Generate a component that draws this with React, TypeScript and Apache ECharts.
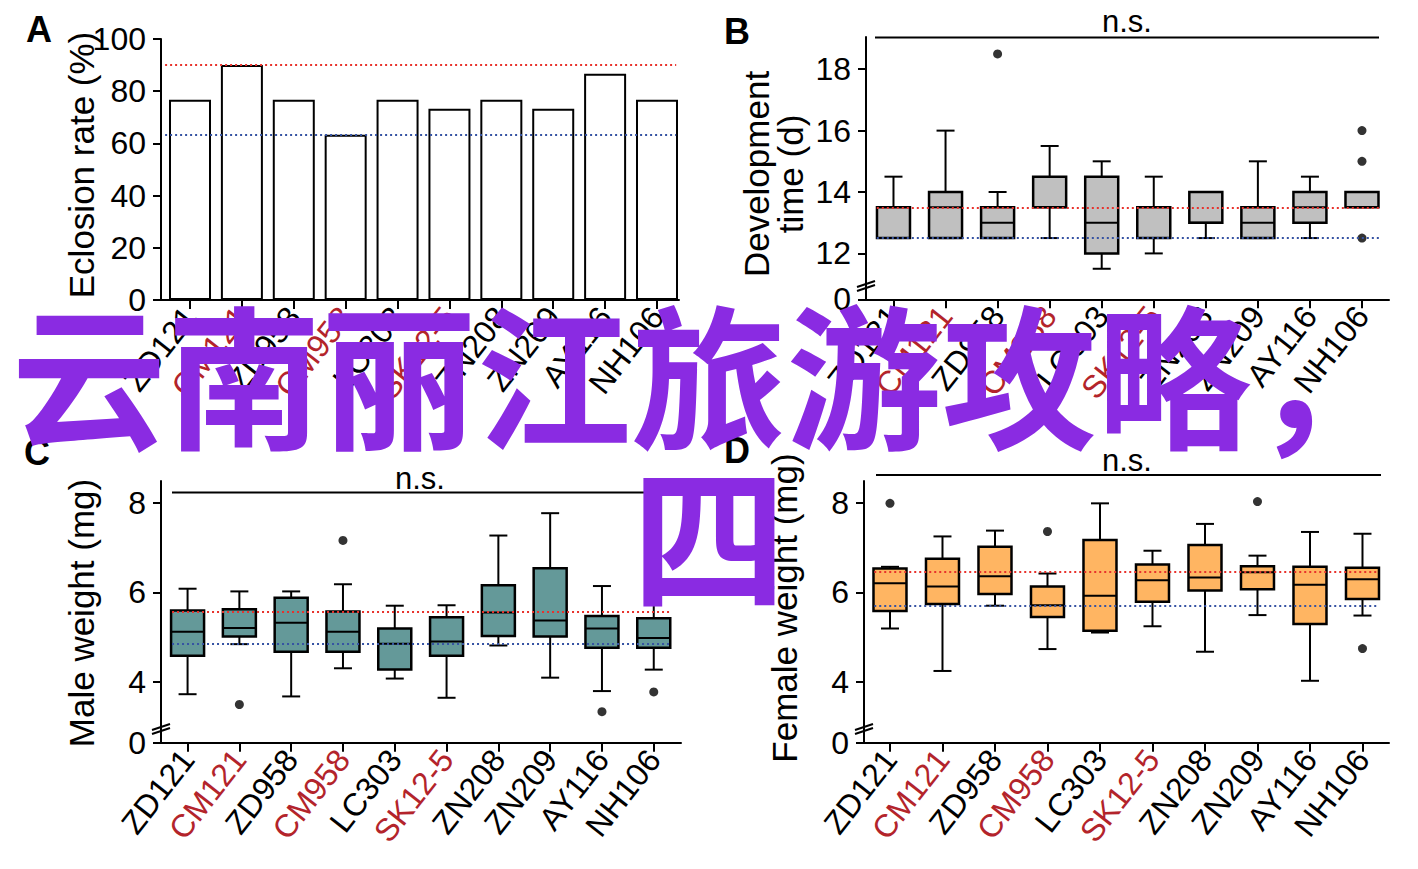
import React, { useEffect, useRef } from 'react';
import * as echarts from 'echarts';

// ---------- data ----------
const strains = ['ZD121', 'CM121', 'ZD958', 'CM958', 'LC303', 'SK12-5', 'ZN208', 'ZN209', 'AY116', 'NH106'];
const redStrains = ['CM121', 'CM958', 'SK12-5'];

// A: eclosion rate (%)
const eclosionRate = [76.7, 90, 76.7, 63.3, 76.7, 73.3, 76.7, 73.3, 86.7, 76.7];
const eclosionRef = [90, 63.3];
const eclosionTicks = [0, 20, 40, 60, 80, 100];

// B: development time (d)  [min, Q1, median, Q3, max]
const devBoxes = [
  [12.5, 12.5, 12.5, 13.5, 14.5],
  [12.5, 12.5, 13.5, 14, 16],
  [12.5, 12.5, 13, 13.5, 14],
  [12.5, 13.5, 13.5, 14.5, 15.5],
  [11.5, 12, 13, 14.5, 15],
  [12, 12.5, 12.5, 13.5, 14.5],
  [12.5, 13, 13, 14, 14],
  [12.5, 12.5, 13, 13.5, 15],
  [12.5, 13, 13.5, 14, 14.5],
  [13.5, 13.5, 14, 14, 14],
];
const devOutliers = [[2, 18.5], [9, 16], [9, 15], [9, 12.5]];
const devRef = [13.5, 12.5];
const devTicks = [12, 14, 16, 18];

// C: male weight (mg)
const maleBoxes = [
  [3.72, 4.58, 5.12, 5.59, 6.08],
  [4.84, 5.01, 5.2, 5.62, 6.02],
  [3.67, 4.67, 5.32, 5.88, 6.02],
  [4.3, 4.67, 5.12, 5.57, 6.18],
  [4.07, 4.27, 4.85, 5.19, 5.7],
  [3.64, 4.58, 4.9, 5.44, 5.71],
  [4.81, 5.02, 5.55, 6.16, 7.27],
  [4.09, 5.01, 5.37, 6.54, 7.77],
  [3.79, 4.76, 5.19, 5.47, 6.14],
  [4.27, 4.76, 4.98, 5.42, 6.1],
];
const maleOutliers = [[1, 3.49], [3, 7.16], [8, 3.33], [9, 3.77]];
const maleRef = [5.57, 4.84];
const weightTicks = [4, 6, 8];

// D: female weight (mg)
const femaleBoxes = [
  [5.19, 5.58, 6.2, 6.53, 6.57],
  [4.24, 5.74, 6.13, 6.75, 7.25],
  [5.7, 5.96, 6.36, 7.02, 7.38],
  [4.73, 5.45, 5.71, 6.13, 6.42],
  [5.1, 5.14, 5.92, 7.17, 7.99],
  [5.24, 5.79, 6.27, 6.62, 6.93],
  [4.67, 6.04, 6.33, 7.06, 7.53],
  [5.49, 6.07, 6.45, 6.58, 6.82],
  [4.02, 5.29, 6.17, 6.57, 7.35],
  [5.48, 5.85, 6.29, 6.55, 7.31],
];
const femaleOutliers = [[0, 7.99], [3, 7.36], [7, 8.03], [9, 4.74]];
const femaleRef = [6.45, 5.71];

// ---------- styles ----------
const FONT = '"Liberation Sans", Arial, Helvetica, sans-serif';
const RED_LABEL = '#b3242b';
const REF_RED = '#e8322c';
const REF_BLUE = '#3653a3';

const panels = [
  { grid: { left: 161, top: 39, width: 518, height: 261 }, x: [-0.559, 9.424], y: [0, 100], ref: [-0.48, 9.37] },
  { grid: { left: 866, top: 37, width: 523, height: 262.3 }, x: [-0.528, 9.519], y: [10.505, 19.05], ref: [-0.32, 9.34] },
  { grid: { left: 161, top: 481, width: 520, height: 261.7 }, x: [-0.513, 9.526], y: [2.635, 8.49], ref: [-0.3, 9.32] },
  { grid: { left: 864, top: 481, width: 525, height: 261.7 }, x: [-0.495, 9.505], y: [2.635, 8.49], ref: [-0.3, 9.3] },
];

const idx = strains.map((_, i) => i);

function xAxis(i: number) {
  const p = panels[i];
  return {
    type: 'value',
    gridIndex: i,
    min: p.x[0],
    max: p.x[1],
    splitLine: { show: false },
    axisLine: { show: true, onZero: false, lineStyle: { color: '#000', width: 2 } },
    axisTick: { show: true, customValues: idx, length: 9, lineStyle: { color: '#000', width: 2 } },
    axisLabel: {
      customValues: idx,
      rotate: 52,
      margin: 11,
      fontSize: 32,
      fontFamily: FONT,
      formatter: (v: number) => strains[Math.round(v)] ?? '',
      color: (v: any) => (redStrains.includes(strains[Math.round(Number(v))]) ? RED_LABEL : '#000'),
    },
  };
}

function yAxis(i: number, ticks: number[], broken: boolean) {
  const p = panels[i];
  const vals = broken ? [p.y[0], ...ticks] : ticks;
  return {
    type: 'value',
    gridIndex: i,
    min: p.y[0],
    max: p.y[1],
    splitLine: { show: false },
    axisLine: { show: true, onZero: false, lineStyle: { color: '#000', width: 2 } },
    axisTick: { show: true, customValues: vals, length: 8, lineStyle: { color: '#000', width: 2 } },
    axisLabel: {
      customValues: vals,
      margin: 15,
      fontSize: 32,
      color: '#000',
      fontFamily: FONT,
      formatter: (v: number) => (broken && v < ticks[0] - 0.01 ? '0' : String(v)),
    },
  };
}

function refLines(i: number, vals: number[]) {
  const p = panels[i];
  return {
    silent: true,
    symbol: 'none',
    label: { show: false },
    data: vals.map((v, k) => [
      { coord: [p.ref[0], v], lineStyle: { color: k === 0 ? REF_RED : REF_BLUE, type: [2, 3], width: 2 } },
      { coord: [p.ref[1], v] },
    ]),
  };
}

function boxSeries(i: number, boxes: number[][], fill: string) {
  return {
    type: 'custom',
    xAxisIndex: i,
    yAxisIndex: i,
    data: boxes.map((b, k) => [k, ...b]),
    encode: { x: 0, y: [1, 2, 3, 4, 5] },
    renderItem: (_params: any, api: any) => {
      const x = api.value(0);
      const lo = api.coord([x, api.value(1)]);
      const q1 = api.coord([x, api.value(2)]);
      const med = api.coord([x, api.value(3)]);
      const q3 = api.coord([x, api.value(4)]);
      const hi = api.coord([x, api.value(5)]);
      const cx = lo[0];
      const bw = 33;
      const cw = 18;
      const st = { stroke: '#000', lineWidth: 2 };
      return {
        type: 'group',
        children: [
          { type: 'line', shape: { x1: cx, y1: hi[1], x2: cx, y2: q3[1] }, style: st },
          { type: 'line', shape: { x1: cx, y1: q1[1], x2: cx, y2: lo[1] }, style: st },
          { type: 'line', shape: { x1: cx - cw / 2, y1: hi[1], x2: cx + cw / 2, y2: hi[1] }, style: st },
          { type: 'line', shape: { x1: cx - cw / 2, y1: lo[1], x2: cx + cw / 2, y2: lo[1] }, style: st },
          {
            type: 'rect',
            shape: { x: cx - bw / 2, y: q3[1], width: bw, height: q1[1] - q3[1] },
            style: { fill, stroke: '#000', lineWidth: 2.5 },
          },
          { type: 'line', shape: { x1: cx - bw / 2, y1: med[1], x2: cx + bw / 2, y2: med[1] }, style: st },
        ],
      };
    },
  };
}

function outlierSeries(i: number, pts: number[][], ref: number[]) {
  return {
    type: 'scatter',
    xAxisIndex: i,
    yAxisIndex: i,
    symbolSize: 9,
    itemStyle: { color: '#000' },
    data: pts,
    z: 4,
    markLine: refLines(i, ref),
  };
}

function breakMark(x: number, y: number) {
  return {
    type: 'group',
    z: 100,
    children: [
      { type: 'polygon', shape: { points: [[x - 9, y + 1], [x + 9, y - 5], [x + 9, y - 1], [x - 9, y + 5]] }, style: { fill: '#fff' } },
      { type: 'line', shape: { x1: x - 9, y1: y + 1, x2: x + 9, y2: y - 5 }, style: { stroke: '#000', lineWidth: 2 } },
      { type: 'line', shape: { x1: x - 9, y1: y + 5, x2: x + 9, y2: y - 1 }, style: { stroke: '#000', lineWidth: 2 } },
    ],
  };
}

function txt(text: string, x: number, y: number, font: string, extra: any = {}) {
  return {
    type: 'text',
    x,
    y,
    z: 50,
    ...extra,
    style: { text, font, fill: '#000', align: 'center', verticalAlign: 'middle', ...(extra.style || {}) },
  };
}

function hline(x1: number, x2: number, y: number) {
  return { type: 'line', z: 50, shape: { x1, y1: y, x2, y2: y }, style: { stroke: '#000', lineWidth: 2 } };
}

const TITLE_FONT = `35px ${FONT}`;

const option: any = {
  animation: false,
  backgroundColor: '#fff',
  textStyle: { fontFamily: FONT },
  grid: panels.map((p) => ({ ...p.grid, containLabel: false })),
  xAxis: [xAxis(0), xAxis(1), xAxis(2), xAxis(3)],
  yAxis: [yAxis(0, eclosionTicks, false), yAxis(1, devTicks, true), yAxis(2, weightTicks, true), yAxis(3, weightTicks, true)],
  series: [
    {
      type: 'bar',
      xAxisIndex: 0,
      yAxisIndex: 0,
      barWidth: 42,
      data: eclosionRate.map((v, k) => [k, v]),
      itemStyle: { color: '#fff', borderColor: '#000', borderWidth: 2 },
      markLine: refLines(0, eclosionRef),
    },
    boxSeries(1, devBoxes, '#c0c0c0'),
    outlierSeries(1, devOutliers, devRef),
    boxSeries(2, maleBoxes, '#649999'),
    outlierSeries(2, maleOutliers, maleRef),
    boxSeries(3, femaleBoxes, '#ffb562'),
    outlierSeries(3, femaleOutliers, femaleRef),
  ],
  graphic: [
    // panel letters
    txt('A', 39, 29, `bold 36px ${FONT}`),
    txt('B', 737, 31, `bold 36px ${FONT}`),
    txt('C', 37, 452, `bold 36px ${FONT}`),
    txt('D', 737, 450, `bold 36px ${FONT}`),
    // axis titles
    txt('Eclosion rate (%)', 81, 165, TITLE_FONT, { rotation: Math.PI / 2 }),
    txt('Development\ntime (d)', 773, 174, TITLE_FONT, { rotation: Math.PI / 2, style: { lineHeight: 34 } }),
    txt('Male weight (mg)', 81, 613, TITLE_FONT, { rotation: Math.PI / 2 }),
    txt('Female weight (mg)', 784, 608, TITLE_FONT, { rotation: Math.PI / 2 }),
    // significance bars
    hline(875, 1379, 37.5),
    txt('n.s.', 1127, 21, `31px ${FONT}`),
    hline(172, 669, 492.5),
    txt('n.s.', 420, 478, `31px ${FONT}`),
    hline(876, 1381, 475),
    txt('n.s.', 1127, 460, `31px ${FONT}`),
    // axis breaks
    breakMark(866, 286),
    breakMark(161, 729),
    breakMark(864, 729),
    // overlay title
    {
      type: 'text',
      x: 709,
      y: 289,
      z: 200,
      style: {
        text: '云南丽江旅游攻略，\n四',
        font: 'bold 155px "Noto Sans CJK SC", sans-serif',
        fill: '#8a2be2',
        align: 'center',
        verticalAlign: 'top',
        lineHeight: 160,
      },
    },
  ],
};

export default function App() {
  const ref = useRef<HTMLDivElement>(null);
  useEffect(() => {
    const chart = echarts.init(ref.current!, null, { renderer: 'svg' });
    chart.setOption(option);
    return () => chart.dispose();
  }, []);
  return (
    <div
      ref={ref}
      style={{ position: 'absolute', left: 0, top: 0, width: 1418, height: 869, background: '#fff' }}
    />
  );
}
